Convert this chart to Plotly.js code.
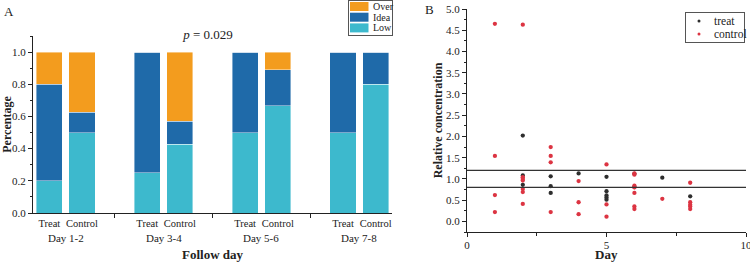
<!DOCTYPE html>
<html>
<head>
<meta charset="utf-8">
<script src="https://cdn.plot.ly/plotly-3.0.1.min.js"></script>
<style>html,body{margin:0;padding:0;background:#fff;}#chart{width:750px;height:262px;}</style>
</head>
<body>
<div id="chart"></div>
<script>
// ---------- Panel A data ----------
const dayGroups = ['Day 1-2', 'Day 3-4', 'Day 5-6', 'Day 7-8'];
const arms = ['Treat', 'Control'];
const levels = ['Over', 'Idea', 'Low'];
const lowShare  = [0.2, 0.5, 0.25, 0.4286, 0.5, 0.6667, 0.5, 0.8];
const ideaShare = [0.6, 0.125, 0.75, 0.1429, 0.5, 0.2222, 0.5, 0.2];
const overShare = [0.2, 0.375, 0, 0.4286, 0, 0.1111, 0, 0];
const pText = '<i>p</i> = 0.029';

// ---------- Panel B data ----------
const groupsB = ['treat', 'control'];
const treatDay  = [2, 2, 2, 3, 3, 3, 4, 5, 5, 5, 5, 5, 6, 6, 7, 8];
const treatConc = [2.02, 1.08, 0.86, 1.06, 0.83, 0.67, 1.13, 1.05, 0.71, 0.61, 0.56, 0.51, 1.12, 0.81, 1.03, 0.59];
const controlDay  = [1, 1, 1, 1, 2, 2, 2, 2, 2, 2, 2, 3, 3, 3, 3, 4, 4, 4, 5, 5, 5, 6, 6, 6, 6, 6, 6, 6, 7, 8, 8, 8, 8, 8];
const controlConc = [4.65, 1.54, 0.62, 0.22, 4.63, 1.04, 1.00, 0.96, 0.76, 0.69, 0.41, 1.75, 1.54, 1.39, 0.22, 0.95, 0.45, 0.17, 1.34, 0.40, 0.11, 1.13, 1.10, 0.84, 0.80, 0.67, 0.35, 0.29, 0.53, 0.91, 0.45, 0.39, 0.35, 0.29];
const thresholds = [1.2, 0.8];

const W = 750, H = 262;
const px = v => v / W, py = v => 1 - v / H;

const colors = {Over: '#f39c1e', Idea: '#1f6aa9', Low: '#3db9cd', treat: '#2e2e2e', control: '#dc3442'};

// positions: each group takes 3 slots (two bars + gap)
const barPos = [], barText = [];
dayGroups.forEach((g, gi) => arms.forEach((a, ai) => { barPos.push(gi * 3 + 1 + ai); barText.push(a); }));
const groupCenters = dayGroups.map((g, gi) => gi * 3 + 1.5);
const groupSeps = dayGroups.slice(1).map((g, gi) => (gi + 1) * 3);

const serif = "'Liberation Serif', 'Times New Roman', serif";
const txt = '#222';

const barCommon = {type: 'bar', x: barPos, width: 0.8, xaxis: 'x', yaxis: 'y', hoverinfo: 'skip', showlegend: false};
const mk = c => ({color: c, line: {color: 'rgba(255,255,255,0.7)', width: 0.6}});
const traces = [
  Object.assign({}, barCommon, {name: 'Low',  y: lowShare,  marker: mk(colors.Low)}),
  Object.assign({}, barCommon, {name: 'Idea', y: ideaShare, marker: mk(colors.Idea)}),
  Object.assign({}, barCommon, {name: 'Over', y: overShare, marker: mk(colors.Over)}),
  {type: 'scatter', mode: 'markers', name: 'treat', x: treatDay, y: treatConc, xaxis: 'x2', yaxis: 'y2', showlegend: false,
   marker: {color: colors.treat, size: 4.3}},
  {type: 'scatter', mode: 'markers', name: 'control', x: controlDay, y: controlConc, xaxis: 'x2', yaxis: 'y2', showlegend: false,
   marker: {color: colors.control, size: 4.3}},
  // empty traces that host the two legend frames (framed mini-subplots)
  {type: 'scatter', mode: 'markers', x: [], y: [], xaxis: 'x3', yaxis: 'y3', showlegend: false, hoverinfo: 'skip'},
  {type: 'scatter', mode: 'markers', x: [], y: [], xaxis: 'x4', yaxis: 'y4', showlegend: false, hoverinfo: 'skip'}
];

const annotations = dayGroups.map((g, gi) => ({
  text: g, x: groupCenters[gi], xref: 'x', y: py(238), yref: 'paper',
  showarrow: false, xanchor: 'center', yanchor: 'middle', font: {family: serif, size: 11, color: txt}
}));
const paperText = (text, x, y, opts) => Object.assign({text: text, x: px(x), y: py(y), xref: 'paper', yref: 'paper', xanchor: 'left', yanchor: 'middle', showarrow: false, font: {family: serif, size: 13, color: txt}}, opts || {});
annotations.push(paperText('A', 2, 12));
annotations.push(paperText('B', 423, 10));
// x-axis titles
annotations.push(paperText('<b>Follow day</b>', 212.5, 254, {xanchor: 'center'}));
annotations.push(paperText('<b>Day</b>', 606, 254.5, {xanchor: 'center'}));

const shapes = thresholds.map(t => ({type: 'line', xref: 'x2 domain', yref: 'y2', x0: 0, x1: 1, y0: t, y1: t, line: {color: '#333', width: 1.2}}));

// manual legend A (compact, like the reference)
levels.forEach((lv, i) => {
  const top = 2 + i * 10.7;
  shapes.push({type: 'rect', xref: 'paper', yref: 'paper', x0: px(350), x1: px(368.5), y0: py(top + 9), y1: py(top), line: {width: 0}, fillcolor: colors[lv]});
  annotations.push(paperText(lv, 371, top + 4.6, {font: {family: serif, size: 10, color: txt}}));
});
// manual legend B
groupsB.forEach((g, i) => {
  const cy = 21 + i * 13;
  shapes.push({type: 'circle', xref: 'paper', yref: 'paper', x0: px(697.5), x1: px(700.5), y0: py(cy + 1.5), y1: py(cy - 1.5), line: {width: 0}, fillcolor: colors[g]});
  annotations.push(paperText(g, 712, cy, {font: {family: serif, size: 11.5, color: txt}}));
});

const axisCommon = {showline: true, linecolor: '#222', linewidth: 1, showgrid: false, zeroline: false, ticks: 'outside', tickcolor: '#222',
  ticklabeloverflow: 'allow', tickfont: {family: serif, size: 11, color: txt}};
const frameAxis = (domain, anchor) => ({domain: domain, anchor: anchor, showline: true, mirror: true, linecolor: '#555', linewidth: 1,
  showgrid: false, zeroline: false, showticklabels: false, ticks: '', range: [0, 1], fixedrange: true});

const layout = {
  width: W, height: H, margin: {l: 0, r: 0, t: 0, b: 0}, paper_bgcolor: '#fff', plot_bgcolor: 'rgba(0,0,0,0)',
  barmode: 'stack', bargap: 0, showlegend: false,
  title: {text: pText, x: px(208), xanchor: 'center', y: py(34), yanchor: 'middle', font: {family: serif, size: 13, color: txt}},
  xaxis: Object.assign({}, axisCommon, {domain: [px(33), px(392)], range: [0.5, 11.5], tickmode: 'array', tickvals: barPos, ticktext: barText,
    ticks: '', ticklabelstandoff: 0, tickfont: {family: serif, size: 10.5, color: txt},
    minor: {tickmode: 'array', tickvals: groupSeps, ticks: 'outside', ticklen: 4, tickcolor: '#222'}}),
  yaxis: Object.assign({}, axisCommon, {domain: [py(213), py(36)], range: [0, 1.1], tickmode: 'linear', tick0: 0, dtick: 0.2, tickformat: '.1f', ticklen: 4,
    minor: {dtick: 0.1, ticks: 'outside', ticklen: 2.5, tickcolor: '#222'},
    title: {text: '<b>Percentage</b>', standoff: 2, font: {family: serif, size: 12, color: txt}}}),
  xaxis2: Object.assign({}, axisCommon, {anchor: 'y2', domain: [px(467), px(746)], range: [0, 10], tickmode: 'linear', tick0: 0, dtick: 5, ticklen: 4,
    ticklabelstandoff: -1,
    minor: {dtick: 2.5, ticks: 'outside', ticklen: 2.5, tickcolor: '#222'}}),
  yaxis2: Object.assign({}, axisCommon, {anchor: 'x2', domain: [py(232), py(9)], range: [-0.25, 5.0], tickmode: 'linear', tick0: 0, dtick: 0.5, tickformat: '.1f', ticklen: 4,
    minor: {dtick: 0.25, ticks: 'outside', ticklen: 2.5, tickcolor: '#222'},
    title: {text: '<b>Relative concentration</b>', standoff: 0, font: {family: serif, size: 12, color: txt}}}),
  xaxis3: frameAxis([px(349), px(392)], 'y3'),
  yaxis3: frameAxis([py(35), py(1)], 'x3'),
  xaxis4: frameAxis([px(686), px(744)], 'y4'),
  yaxis4: frameAxis([py(42), py(13)], 'x4'),
  annotations: annotations,
  shapes: shapes
};

Plotly.newPlot('chart', traces, layout, {displayModeBar: false, staticPlot: true});
</script>
</body>
</html>
